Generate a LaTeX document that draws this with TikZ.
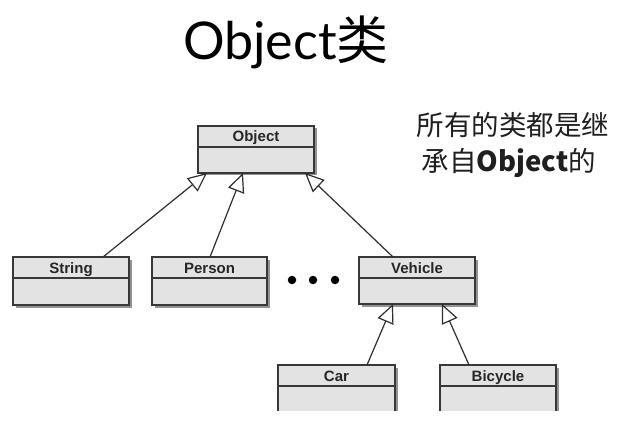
\documentclass[tikz,border=0pt]{standalone}
\usepackage{fontspec}
\setmainfont{Liberation Sans}
\newfontfamily\cjk{Noto Sans CJK SC}
\newfontfamily\titlefont{Lato}
\usetikzlibrary{arrows.meta,calc,shadows}
\newcommand\umlclass[7]{%
  \node[boxst, anchor=north west, minimum width=#4pt, minimum height=#5pt] (#1) at (#2,#3) {};
  \draw[divst] ([yshift=-#6pt]#1.north west) -- ([yshift=-#6pt]#1.north east);
  \node[lab, anchor=base] (#1-t) at ($(#1.north)+(0,#6/2+5.5)$) {#7};
}
\begin{document}
\begin{tikzpicture}[x=1pt,y=-1pt,
  boxst/.style={draw=black!78, line width=1.2pt, fill=black!11, rectangle, inner sep=0pt, outer sep=0pt,
    drop shadow={shadow xshift=2.5pt, shadow yshift=-2.5pt, fill=black!60, opacity=0.7}},
  divst/.style={draw=black!78, line width=1.2pt},
  lab/.style={font=\bfseries\fontsize{15}{15}\selectfont, text=black!85, inner sep=0pt},
  inh/.style={draw=black!82, line width=1.2pt, -{Triangle[open, length=19pt, width=17pt, fill=white]}},
  dotst/.style={circle, fill=black, minimum size=8.5pt, inner sep=0pt}]
\useasboundingbox (0,0) rectangle (618,422);
\fill[white] (0,0) rectangle (618,422);

\node[anchor=base, inner sep=0pt] (title) at (286,60) {\titlefont\fontsize{52}{52}\selectfont Object\cjk 类};

\node[anchor=base, inner sep=0pt, text=black!88] (note1) at (513,136) {\cjk\fontsize{27.5}{27.5}\selectfont 所有的类都是继};
\node[anchor=base, inner sep=0pt, text=black!88] (note2) at (509,172) {\cjk\fontsize{27.5}{27.5}\selectfont 承自{\bfseries Object}的};

\umlclass{obj}{198}{126}{116}{47}{21}{Object}
\umlclass{str}{13}{257}{116}{48}{21}{String}
\umlclass{per}{152}{257}{115}{48}{21}{Person}
\umlclass{veh}{359}{257}{116}{47}{21}{Vehicle}
\begin{scope}
  \clip (0,0) rectangle (618,410);
  \umlclass{car}{278}{365}{117}{60}{21}{Car}
  \umlclass{bic}{440}{365}{116}{60}{21}{Bicycle}
\end{scope}

\node[dotst] (d1) at (292,280) {};
\node[dotst] (d2) at (313,280) {};
\node[dotst] (d3) at (335,280) {};

\draw[inh] ([xshift=90pt]str.north west) -- ([xshift=9pt]obj.south west);
\draw[inh] ([xshift=58pt]per.north west) -- ([xshift=45pt]obj.south west);
\draw[inh] ([xshift=34pt]veh.north west) -- ([xshift=107pt]obj.south west);
\draw[inh] ([xshift=89pt]car.north west) -- ([xshift=34pt]veh.south west);
\draw[inh] ([xshift=29pt]bic.north west) -- ([xshift=83pt]veh.south west);
\end{tikzpicture}
\end{document}
